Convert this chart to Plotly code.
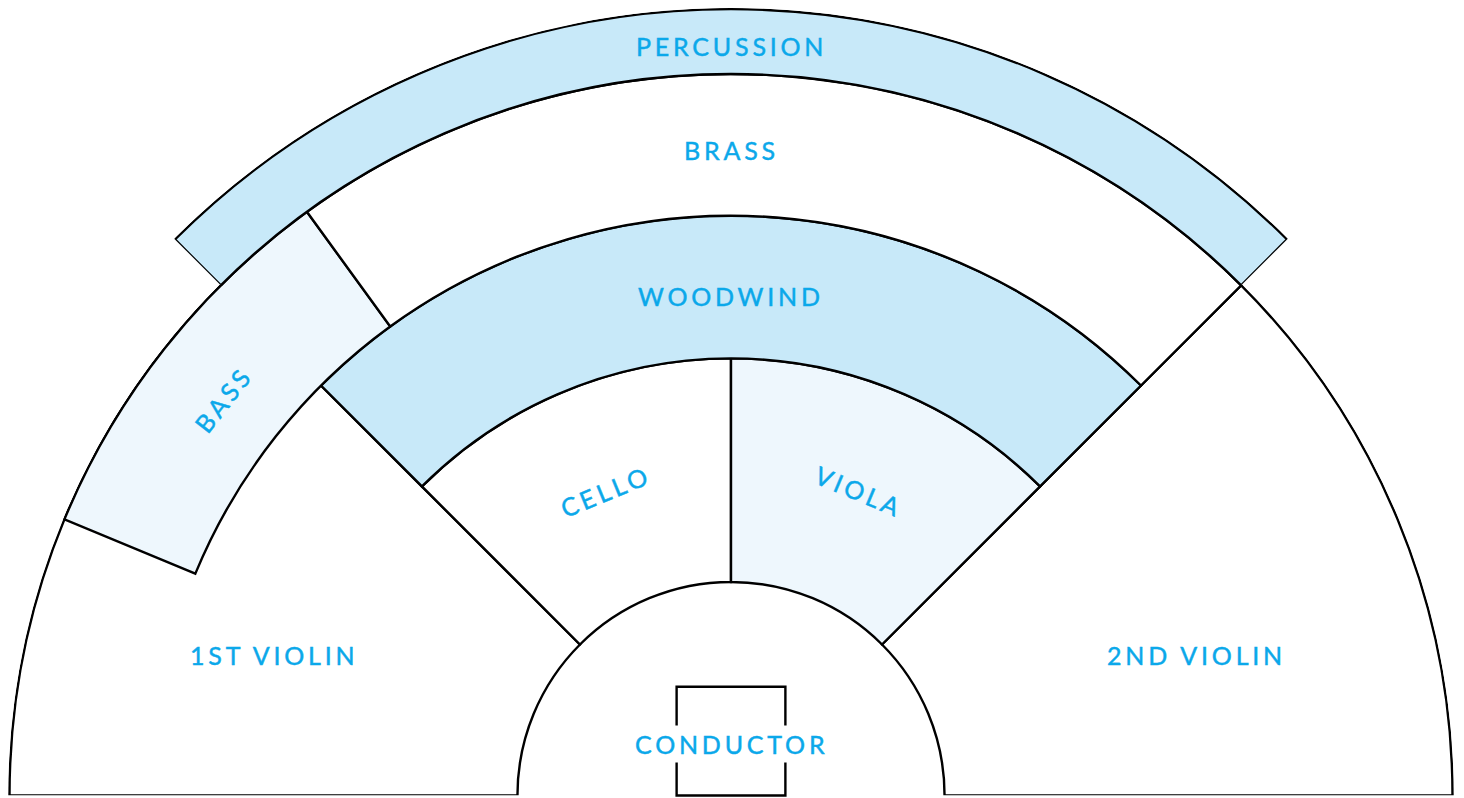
import numpy as np
import plotly.graph_objects as go

# ---- data: orchestra seating sections (angles in degrees, radii in chart units) ----
sections = ["1st violin", "2nd violin", "cello", "viola", "woodwind", "bass", "brass"]
theta_start = [135, 0, 90, 45, 45, 126, 45]
theta_end = [180, 45, 135, 90, 135, 157.5, 126]
r_inner = [214, 214, 214, 214, 438, 581, 581]
r_outer = [723, 723, 438, 438, 581, 723, 723]
fills = ["#FFFFFF", "#FFFFFF", "#FFFFFF", "#EEF7FD", "#C8E9F9", "#EEF7FD", "#FFFFFF"]

# outer percussion band
perc_name = "percussion"
perc_theta = [45, 135]
perc_r = [723, 788]
perc_fill = "#C8E9F9"

# section labels (position in polar units; rotation follows the arc when flagged)
label_text = ["PERCUSSION", "BRASS", "WOODWIND", "1ST VIOLIN", "2ND VIOLIN",
              "BASS", "CELLO", "VIOLA"]
label_r = [751, 647, 501, 479, 487, 646, 330, 331]
label_theta = [90, 90, 90, 162.9, 16.8, 142, 112.4, 67.2]
label_follow_arc = [False, False, False, False, False, True, True, True]

# conductor
conductor_text = "CONDUCTOR"
conductor_r = 52
conductor_box_halfwidth = 54.5
conductor_box_height = 109

# ---- layout constants (figure pixels; page body adds an 8px offset) ----
FW, FH = 1456, 790
CX, CY = 723.0, 787.5          # polar centre in figure px
R1 = 724.5                      # radial range of main polar
R1_PX = 723.0
K = R1_PX / R1                  # px per unit
R2_PX = CY                      # outer polar reaches figure top
R2 = R2_PX / K
S45 = np.sin(np.radians(45))

TEXT_COLOR = "#0BA8EA"
FONT = "Lato"
FSIZE = 25
TSTYLE = f"letter-spacing:3.8px;stroke:{TEXT_COLOR};stroke-width:0.45px"
LINE = dict(color="black", width=2.4)


def styled(t):
    return f'<span style="{TSTYLE}">{t}</span>'


def to_paper(r, th):
    a = np.radians(th)
    return (CX + r * K * np.cos(a)) / FW, (FH - CY + r * K * np.sin(a)) / FH


theta_mid = [(a + b) / 2 for a, b in zip(theta_start, theta_end)]
widths = [b - a for a, b in zip(theta_start, theta_end)]
lengths = [o - i for i, o in zip(r_inner, r_outer)]

fig = go.Figure()
fig.add_trace(go.Barpolar(
    theta=theta_mid, width=widths, base=r_inner, r=lengths,
    marker=dict(color=fills, line=LINE),
    text=sections, hoverinfo="text", showlegend=False, subplot="polar",
))
fig.add_trace(go.Barpolar(
    theta=[sum(perc_theta) / 2], width=[perc_theta[1] - perc_theta[0]],
    base=[perc_r[0]], r=[perc_r[1] - perc_r[0]],
    marker=dict(color=perc_fill, line=LINE),
    text=[perc_name], hoverinfo="text", showlegend=False, subplot="polar2",
))

annotations = []
for t, r, th, follow in zip(label_text, label_r, label_theta, label_follow_arc):
    x, y = to_paper(r, th)
    annotations.append(dict(
        x=x, y=y, xref="paper", yref="paper", showarrow=False,
        xanchor="center", yanchor="middle", text=styled(t),
        textangle=(90 - th) if follow else 0,
        font=dict(family=FONT, size=FSIZE, color=TEXT_COLOR),
    ))
cx, cy = to_paper(conductor_r, 90)
annotations.append(dict(
    x=cx, y=cy, xref="paper", yref="paper", showarrow=False,
    xanchor="center", yanchor="middle", text=styled(conductor_text),
    bgcolor="white", borderpad=3,
    font=dict(family=FONT, size=FSIZE, color=TEXT_COLOR),
))

bx_l = (CX - conductor_box_halfwidth * K) / FW
bx_r = (CX + conductor_box_halfwidth * K) / FW
by_b = (FH - CY) / FH
by_t = (FH - CY + conductor_box_height * K) / FH
shapes = [dict(type="rect", xref="paper", yref="paper",
               x0=bx_l, x1=bx_r, y0=by_b, y1=by_t,
               line=LINE, fillcolor="rgba(0,0,0,0)", layer="above")]

axis_off = dict(visible=False, showgrid=False, rotation=0,
                direction="counterclockwise", thetaunit="degrees")

fig.update_layout(
    width=FW, height=FH,
    margin=dict(l=0, r=0, t=0, b=0, pad=0),
    paper_bgcolor="white",
    showlegend=False,
    polar=dict(
        domain=dict(x=[(CX - R1_PX) / FW, (CX + R1_PX) / FW],
                    y=[(FH - CY) / FH, (FH - CY + R1_PX) / FH]),
        sector=[0, 180],
        bgcolor="white",
        barmode="overlay",
        radialaxis=dict(range=[0, R1], visible=False, showgrid=False),
        angularaxis=axis_off,
    ),
    polar2=dict(
        domain=dict(x=[(CX - R2_PX * S45) / FW, (CX + R2_PX * S45) / FW],
                    y=[(FH - CY) / FH, 1]),
        sector=[45, 135],
        bgcolor="rgba(0,0,0,0)",
        barmode="overlay",
        radialaxis=dict(range=[0, R2], visible=False, showgrid=False),
        angularaxis=axis_off,
    ),
    annotations=annotations,
    shapes=shapes,
)

fig.write_html("out.html")
